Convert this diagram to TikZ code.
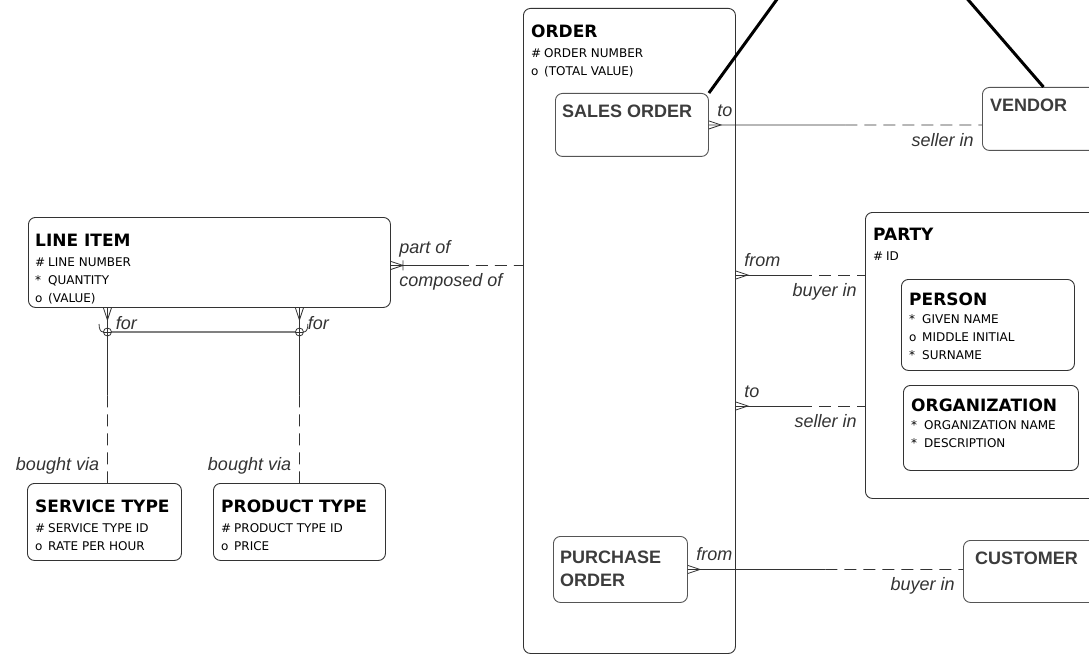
\documentclass[tikz,border=0pt]{standalone}
\usepackage{fontspec}
\newfontfamily\entfont{DejaVu Sans}
\newfontfamily\lblfont{Liberation Sans}
\usepackage{xcolor}
\definecolor{LineGray}{HTML}{333333}
\definecolor{SubGray}{HTML}{555555}
\definecolor{NameGray}{HTML}{3c3c3c}
\definecolor{ArcGray}{HTML}{808080}
\usepackage{tikz}
\usetikzlibrary{calc, positioning}

\newcommand{\enttitle}[1]{{\fontsize{17}{18}\selectfont\bfseries #1}}
\newcommand{\attr}[2]{\makebox[13pt][l]{#1}#2}

\begin{document}
\begin{tikzpicture}[x=1pt, y=-1pt,
  ent/.style={draw=LineGray, line width=0.9pt, rounded corners=7pt, anchor=north west, inner sep=0pt},
  subent/.style={ent, draw=SubGray},
  enttxt/.style={inner sep=0pt, align=left, font=\entfont\fontsize{12}{18}\selectfont},
  subtxt/.style={inner sep=0pt, align=left, text=NameGray, font=\lblfont\fontsize{18}{23}\selectfont\bfseries},
  conn/.style={draw=LineGray, line width=0.8pt},
  half/.style={conn, dash pattern=on 12pt off 7pt},
  lbl/.style={inner sep=8pt, text=LineGray, font=\lblfont\fontsize{18}{20}\selectfont\itshape},
  arcline/.style={draw=ArcGray, line width=2pt},
  xcirc/.style={circle, draw=LineGray, fill=white, line width=0.8pt, minimum size=8pt, inner sep=0pt,
    path picture={\draw[LineGray, line width=0.6pt] (path picture bounding box.north) -- (path picture bounding box.south)
      (path picture bounding box.west) -- (path picture bounding box.east);}},
  super/.style={line width=3pt},
  crow/.pic={\draw[conn] (0pt,4pt) -- (12pt,0pt) -- (0pt,-4pt);},
  uidcrow/.pic={\draw[conn] (0pt,4pt) -- (12pt,0pt) -- (0pt,-4pt) (12pt,5pt) -- (12pt,-5pt);}]
  \clip (0,0) rectangle (1089,655);

  % ORDER and its subtypes
  \node[ent, minimum width=212pt, minimum height=645pt] (order) at (523,8) {};
  \node[enttxt, below right=17pt and 8pt of order.north west] (order-t)
    {\enttitle{ORDER}\\[2pt] \attr{\#}{ORDER NUMBER}\\ \attr{o}{(TOTAL VALUE)}};
  \node[subent, minimum width=153pt, minimum height=63pt] (sales) at (555,93) {};
  \node[subtxt, below right=12pt and 7pt of sales.north west] (sales-t) {SALES ORDER};
  \node[subent, minimum width=134pt, minimum height=66pt] (purchase) at (553,536) {};
  \node[subtxt, below right=15pt and 7pt of purchase.north west] (purchase-t) {PURCHASE\\ORDER};

  % PARTY and its subtypes
  \node[ent, minimum width=240pt, minimum height=286pt] (party) at (865,212) {};
  \node[enttxt, below right=16pt and 8pt of party.north west] (party-t)
    {\enttitle{PARTY}\\[2pt] \attr{\#}{ID}};
  \node[ent, minimum width=173pt, minimum height=91pt] (person) at (901,279) {};
  \node[enttxt, below right=14pt and 8pt of person.north west] (person-t)
    {\enttitle{PERSON}\\ \attr{*}{GIVEN NAME}\\ \attr{o}{MIDDLE INITIAL}\\ \attr{*}{SURNAME}};
  \node[ent, minimum width=175pt, minimum height=85pt] (organization) at (903,385) {};
  \node[enttxt, below right=14pt and 8pt of organization.north west] (organization-t)
    {\enttitle{ORGANIZATION}\\ \attr{*}{ORGANIZATION NAME}\\ \attr{*}{DESCRIPTION}};

  % other entities
  \node[subent, minimum width=122pt, minimum height=63pt] (vendor) at (982,87) {};
  \node[subtxt, below right=12pt and 8pt of vendor.north west] (vendor-t) {VENDOR};
  \node[subent, minimum width=140pt, minimum height=62pt] (customer) at (963,540) {};
  \node[subtxt, below right=12pt and 12pt of customer.north west] (customer-t) {CUSTOMER};
  \node[ent, minimum width=362pt, minimum height=90pt] (lineitem) at (28,217) {};
  \node[enttxt, below right=17pt and 7pt of lineitem.north west] (lineitem-t)
    {\enttitle{LINE ITEM}\\[2pt] \attr{\#}{LINE NUMBER}\\ \attr{*}{QUANTITY}\\ \attr{o}{(VALUE)}};
  \node[ent, minimum width=154pt, minimum height=77pt] (service) at (27,483) {};
  \node[enttxt, below right=17pt and 8pt of service.north west] (service-t)
    {\enttitle{SERVICE TYPE}\\[2pt] \attr{\#}{SERVICE TYPE ID}\\ \attr{o}{RATE PER HOUR}};
  \node[ent, minimum width=172pt, minimum height=77pt] (product) at (213,483) {};
  \node[enttxt, below right=17pt and 8pt of product.north west] (product-t)
    {\enttitle{PRODUCT TYPE}\\[2pt] \attr{\#}{PRODUCT TYPE ID}\\ \attr{o}{PRICE}};

  % thick lines up to the supertype
  \coordinate (upL) at (791,-20);
  \coordinate (upR) at (951,-20);
  \draw[super] (sales.north east) -- (upL);
  \draw[super] (vendor.north) -- (upR);

  % SALES ORDER - VENDOR
  \coordinate (v1) at (sales.east -| vendor.west);
  \draw[conn] (sales.east) -- ($(sales.east)!.5!(v1)$) node[lbl, above right, pos=0] (to1) {to};
  \draw[half] ($(sales.east)!.5!(v1)$) -- (v1) node[lbl, below left, pos=1] (sel1) {seller in};
  \pic at (sales.east) {crow};

  % LINE ITEM - ORDER
  \coordinate (li1) at ([yshift=-3pt]lineitem.east);
  \coordinate (o1) at (li1 -| order.west);
  \draw[conn] (li1) -- ($(li1)!.5!(o1)$)
    node[lbl, above right, pos=0] (partof) {part of}
    node[lbl, below right, pos=0] (composed) {composed of};
  \draw[half] ($(li1)!.5!(o1)$) -- (o1);
  \pic at (li1) {uidcrow};

  % ORDER - PARTY
  \coordinate (b1) at (order.east |- 0,275);
  \coordinate (b2) at (party.west |- 0,275);
  \draw[conn] (b1) -- ($(b1)!.5!(b2)$) node[lbl, above right, pos=0] (from1) {from};
  \draw[half] ($(b1)!.5!(b2)$) -- (b2) node[lbl, below left, pos=1] (buy1) {buyer in};
  \pic at (b1) {crow};
  \coordinate (s1) at (order.east |- 0,406);
  \coordinate (s2) at (party.west |- 0,406);
  \draw[conn] (s1) -- ($(s1)!.5!(s2)$) node[lbl, above right, pos=0] (to2) {to};
  \draw[half] ($(s1)!.5!(s2)$) -- (s2) node[lbl, below left, pos=1] (sel2) {seller in};
  \pic at (s1) {crow};

  % PURCHASE ORDER - CUSTOMER
  \coordinate (c1) at (purchase.east -| customer.west);
  \draw[conn] (purchase.east) -- ($(purchase.east)!.5!(c1)$) node[lbl, above right, pos=0] (from2) {from};
  \draw[half] ($(purchase.east)!.5!(c1)$) -- (c1) node[lbl, below left, pos=1] (buy2) {buyer in};
  \pic at (purchase.east) {crow};

  % LINE ITEM - SERVICE TYPE / PRODUCT TYPE
  \coordinate (svcTop) at ([xshift=3pt]service.north);
  \coordinate (forS) at (svcTop |- lineitem.south);
  \coordinate (forP) at (product.north |- lineitem.south);
  \draw[conn] (forS) -- ($(forS)!.5!(svcTop)$) node[lbl, below right, pos=0] (for1) {for};
  \draw[half] ($(forS)!.5!(svcTop)$) -- (svcTop) node[lbl, above left, pos=1] (via1) {bought via};
  \draw[conn] (forP) -- ($(forP)!.5!(product.north)$) node[lbl, below right, pos=0] (for2) {for};
  \draw[half] ($(forP)!.5!(product.north)$) -- (product.north) node[lbl, above left, pos=1] (via2) {bought via};
  \pic[rotate=-90] at (forS) {crow};
  \pic[rotate=-90] at (forP) {crow};

  % exclusive arc
  \coordinate (xS) at (svcTop |- 0,332);
  \coordinate (xP) at (product.north |- 0,332);
  \draw[arcline] (xS) -- (xP);
  \node[xcirc] (arcS) at (xS) {};
  \node[xcirc] (arcP) at (xP) {};
  \draw[conn] (arcS.west) .. controls +(-3pt,0pt) and +(0pt,-4pt) .. +(-4pt,8pt);
  \draw[conn] (arcP.east) .. controls +(3pt,0pt) and +(0pt,-4pt) .. +(4pt,8pt);
\end{tikzpicture}
\end{document}
